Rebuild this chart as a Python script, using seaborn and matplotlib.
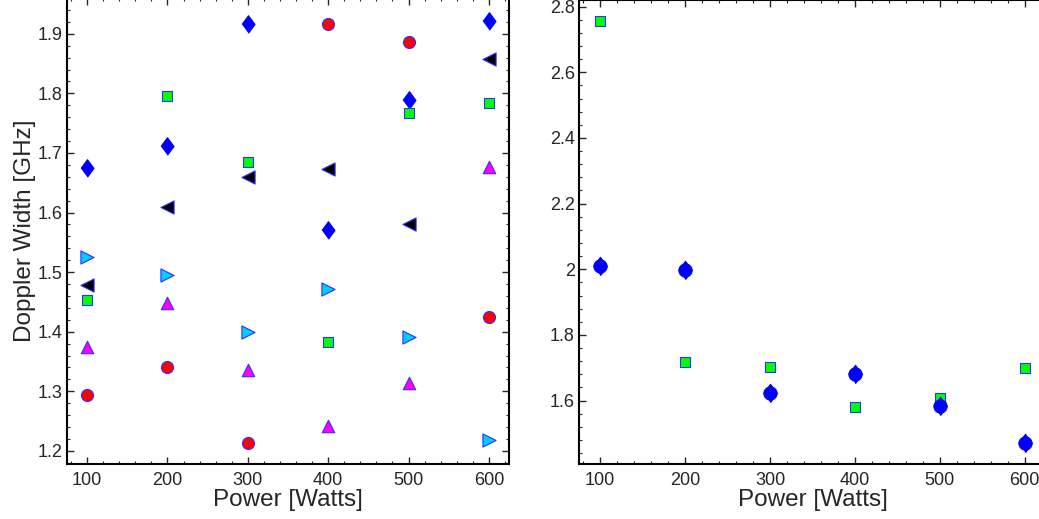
import matplotlib
matplotlib.use("Agg")
import matplotlib.pyplot as plt
from matplotlib.ticker import MultipleLocator, FuncFormatter
import seaborn as sns
import pandas as pd

# power settings shared by both panels
power = [100, 200, 300, 400, 500, 600]

# left panel series (Doppler width, GHz)
left_circle = [1.294, 1.341, 1.214, 1.916, 1.887, 1.424]
left_diamond = [1.675, 1.712, 1.916, 1.571, 1.789, 1.922]
left_square = [1.454, 1.796, 1.684, 1.383, 1.767, 1.783]
left_ltri = [1.478, 1.610, 1.660, 1.673, 1.580, 1.858]
left_rtri = [1.525, 1.495, 1.400, 1.471, 1.391, 1.218]
left_utri = [1.374, 1.448, 1.335, 1.242, 1.314, 1.677]

# right panel series
right_square = [2.756, 1.719, 1.701, 1.581, 1.608, 1.698]
right_blue = [2.011, 1.998, 1.623, 1.682, 1.585, 1.470]

sns.set_style("ticks")
plt.rcParams['font.family'] = ['Liberation Sans', 'DejaVu Sans']
plt.rcParams['xtick.direction'] = 'in'
plt.rcParams['ytick.direction'] = 'in'

EDGE = '#3030ff'
# slightly elongated diamond, like the reference
DIAMOND = [(-0.74, 0), (0, 1), (0.74, 0), (0, -1)]

W, H = 1039, 519
fig = plt.figure(figsize=(W / 100, H / 100), dpi=100)
ax1 = fig.add_axes([67 / W, (H - 464) / H, (509 - 67) / W, 466 / H])
ax2 = fig.add_axes([579 / W, (H - 464) / H, (1046 - 579) / W, 464 / H])


def draw(ax, y, marker, color, size, edge=EDGE):
    df = pd.DataFrame({'x': power, 'y': y})
    sns.scatterplot(data=df, x='x', y='y', ax=ax, marker=marker, color=color,
                    s=size, edgecolor=edge, linewidth=0.8, zorder=3)


draw(ax1, left_circle, 'o', 'red', 75)
draw(ax1, left_diamond, DIAMOND, 'blue', 160, edge='blue')
draw(ax1, left_square, 's', '#00ff00', 45)
draw(ax1, left_ltri, '<', 'black', 90)
draw(ax1, left_rtri, '>', '#00ccff', 90)
draw(ax1, left_utri, '^', '#ff00ff', 80)

draw(ax2, right_square, 's', '#00ff00', 45)
draw(ax2, right_blue, 'o', 'blue', 90, edge='blue')
draw(ax2, right_blue, DIAMOND, 'blue', 175, edge='blue')

fmt = FuncFormatter(lambda v, p: f"{v:g}")
for ax in (ax1, ax2):
    ax.set_xlim(75, 625)
    ax.xaxis.set_major_locator(MultipleLocator(100))
    ax.xaxis.set_minor_locator(MultipleLocator(20))
    ax.yaxis.set_major_formatter(fmt)
    ax.tick_params(which='both', top=True, right=True, labelsize=13)
    ax.tick_params(axis='x', pad=6)
    ax.tick_params(axis='y', pad=3)
    ax.tick_params(which='major', length=5, width=1)
    ax.tick_params(which='minor', length=2.5, width=0.8)
    for sp in ax.spines.values():
        sp.set_visible(True)
        sp.set_linewidth(1.5)
        sp.set_color('black')
    ax.set_xlabel('Power [Watts]', fontsize=17.5, labelpad=0)
    ax.set_ylabel('')

ax1.set_ylim(1.178, 1.96)
ax1.yaxis.set_major_locator(MultipleLocator(0.1))
ax1.yaxis.set_minor_locator(MultipleLocator(0.02))
ax1.set_ylabel('Doppler Width [GHz]', fontsize=17.5, labelpad=1)

ax2.set_ylim(1.407, 2.82)
ax2.yaxis.set_major_locator(MultipleLocator(0.2))
ax2.yaxis.set_minor_locator(MultipleLocator(0.04))

fig.savefig('out.png', dpi=100)
